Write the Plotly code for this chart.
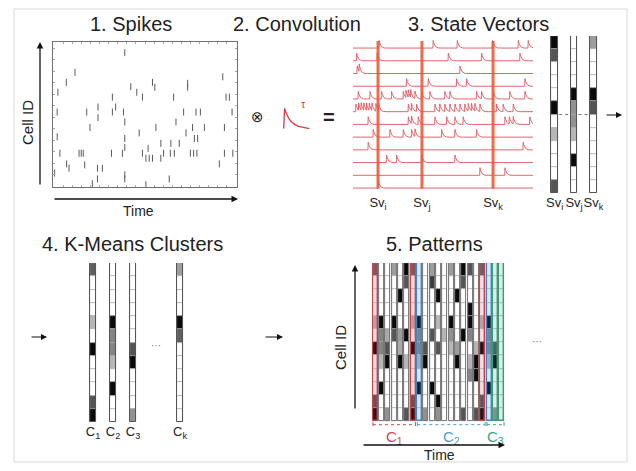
import numpy as np
import plotly.graph_objects as go

# Window is 636x471; the page body keeps an 8px margin, so the figure is
# placed at (8, 8) and all layout positions below are in window pixels.
WIN_W, WIN_H = 636, 471
OFF = 8
W, H = WIN_W - 2 * OFF, WIN_H - 2 * OFF
FONT = "Liberation Sans, Arial, sans-serif"

# ---------------- DATA ----------------
# 1. Spike raster: time (0-100) and cell position (0-100)
SPIKE_TIME = [38.9, 11.6, 6.8, 92.7, 73.4, 73.4, 54.1, 55.4, 42.2, 45.5,
              2.2, 32.1, 48.6, 65.7, 94.5, 96.3, 24.2, 33.9, 1.8, 18.0,
              32.1, 38.2, 24.2, 71.2, 78.0, 80.4, 97.8, 67.0, 38.9, 19.8,
              56.0, 46.8, 38.9, 72.5, 76.1, 82.6, 77.1, 78.9, 93.6, 1.8,
              58.7, 64.2, 68.8, 38.9, 51.7, 3.3, 13.8, 15.0, 16.1, 31.6,
              37.6, 48.6, 60.2, 63.9, 66.1, 74.9, 76.7, 78.5, 93.6, 98.2,
              50.5, 52.3, 54.1, 58.7, 7.0, 8.3, 16.9, 23.9, 26.6, 90.8,
              0.4, 38.9, 38.9, 23.9, 63.3, 21.1, 50.5]
SPIKE_CELL = [93.1, 79.3, 72.4, 76.3, 71.7, 69.0, 72.4, 69.0, 69.4, 65.5,
              65.5, 62.1, 62.1, 62.1, 62.1, 62.1, 55.2, 55.2, 51.7, 51.7,
              51.7, 51.7, 47.8, 51.7, 51.7, 51.7, 51.7, 44.8, 44.8, 40.9,
              40.9, 37.2, 33.3, 37.2, 40.9, 40.9, 33.3, 33.3, 40.9, 34.5,
              29.9, 29.9, 29.9, 27.1, 26.4, 23.0, 23.0, 23.0, 23.0, 23.0,
              23.0, 23.0, 23.0, 23.0, 23.0, 23.0, 23.0, 23.0, 23.0, 23.0,
              19.5, 19.5, 19.5, 19.5, 15.6, 12.6, 14.9, 12.6, 12.6, 15.6,
              9.2, 8.0, 5.1, 5.1, 5.1, 1.8, 1.1]

# 2. Convolution kernel (read from the icon)
KERNEL_T = [0, 0.15, 0.3, 0.5, 0.8, 1.2, 1.7, 2.3, 3.0, 4.0]
KERNEL_V = [0, 1.0, 0.85, 0.68, 0.5, 0.34, 0.21, 0.11, 0.05, 0.0]

# 3. Spike times per cell (top to bottom) for the convolved traces
TRACE_SPIKES = [
    [14.4, 44.4, 57.8, 77.4, 91.7, 97.2],
    [1.9, 13.3, 52.8, 71.3, 92.6],
    [2.2, 3.3, 59.3],
    [29.6, 41.7, 57.4, 63.0, 95.4],
    [2.8, 9.3, 15.7, 21.3, 27.8, 29.3, 30.6, 31.9, 34.3, 38.0, 42.6, 50.9,
     53.7, 68.5, 71.3, 77.8, 87.0, 95.4],
    [1.5, 3.0, 4.4, 5.9, 7.4, 8.9, 10.4, 12.6, 14.1, 30.6, 32.4, 35.2, 45.4,
     48.1, 50.9, 53.7, 56.5, 59.3, 62.0, 63.9, 65.7, 67.6, 70.4, 79.6, 83.3, 88.9],
    [8.3, 30.6, 32.4, 36.1, 45.4, 51.9, 56.5, 61.1, 84.3, 86.7, 88.9, 98.1],
    [11.1, 20.4, 27.8, 32.4, 34.3, 49.1, 56.5, 68.5],
    [8.3, 94.4],
    [18.5, 24.1, 38.0, 56.5],
    [70.4, 84.3],
    [13.9],
]
SV_TIMES = [13.9, 38.3, 77.8]
SV_LABELS = ["Sv<sub>i</sub>", "Sv<sub>j</sub>", "Sv<sub>k</sub>"]
SV_I = [1.0, 0.7, 0, 0, 0, 1.0, 0, 0.3, 0, 0, 0, 0.7]
SV_J = [0, 0, 0, 0, 1.0, 0.45, 0.45, 0.3, 0, 1.0, 0, 0]
SV_K = [0.4, 0, 0, 0, 1.0, 0.7, 0, 0, 0, 0, 0, 0]

# 4. K-means cluster centroids
CLUSTER_LABELS = ["C<sub>1</sub>", "C<sub>2</sub>", "C<sub>3</sub>", "C<sub>k</sub>"]
C_1 = [0.65, 0, 0, 0, 0.3, 0, 1.0, 0, 0, 0, 0.7, 1.0]
C_2 = [0, 0, 0, 0, 1.0, 0.5, 0.5, 0.3, 0, 1.0, 0, 0]
C_3 = [0, 0, 0, 0, 0, 0, 0.7, 1.0, 0, 0, 0, 0.45]
C_K = [0.4, 0, 0, 0, 1.0, 0.65, 0, 0, 0, 0, 0, 0]

# 5. Patterns: state vector per time strip (darkness per cell, top to bottom)
PATTERN = [
    [0.65, 0, 0, 0, 0.3, 0, 1, 0, 0, 0, 0.7, 1],
    [0, 0, 0, 0, 1, 0.5, 0.5, 0.3, 0, 1, 0, 0],
    [0, 0, 0, 0, 0, 0.35, 0.7, 1, 0, 0, 0, 0.45],
    [0.4, 0, 0, 0, 1, 0.7, 0, 0, 0, 0, 0, 0],
    [0, 0, 1, 0, 0, 0.4, 0.35, 1, 0, 0, 0, 0],
    [1, 0.7, 0, 0, 0, 1, 0, 0.3, 0, 0, 0, 0.7],
    [0.65, 0, 0, 0, 0.3, 0, 1, 0, 0, 0, 0.7, 1],
    [0, 0, 0, 0, 1, 0.5, 0.5, 0.3, 0, 1, 0, 0],
    [0, 0, 0, 0, 0, 0, 0.7, 1, 0, 0, 0, 0.45],
    [0.4, 0.8, 0, 0, 0, 0.7, 0, 0, 0, 1, 0, 0],
    [0, 0, 1, 0, 0.3, 0, 0.7, 0, 0, 0, 1, 0.45],
    [0, 0, 0, 0, 0, 0.3, 0, 0, 0, 0, 0, 0],
    [0.4, 0, 0, 0, 1, 0.45, 0.3, 0, 0, 0, 0, 0],
    [0, 0, 1, 0, 0, 0, 0.4, 1, 0, 0, 0, 0],
    [1, 0.7, 0, 0, 0, 1, 0, 0, 0, 0, 0, 0.7],
    [0.7, 0, 0, 1, 1, 0.5, 0, 0.3, 0.5, 0, 0, 0],
    [0, 0, 0, 0, 0, 0, 0.3, 1, 1, 0, 0, 0.7],
    [0.65, 0, 0, 0, 0.3, 0, 1, 0, 0, 0, 0.7, 1],
    [0, 0, 0, 0, 1, 0.5, 0.5, 0.3, 0, 1, 0, 0],
    [0, 0, 0, 0, 0, 0, 0.7, 1, 0, 0, 0, 0.45],
    [0, 0, 0, 0, 0, 0, 0, 0, 0, 0, 0, 0],
]
STRIP_CLUSTER = [1, 0, 0, 0, 0, 0, 1, 2, 0, 0, 0, 0, 0, 0, 0, 0, 0, 1, 2, 3, 3]
RUN_LABELS = ["C<sub>1</sub>", "C<sub>2</sub>", "C<sub>3</sub>"]
RUN_START = [0, 7, 18]
RUN_END = [6, 17, 20]

# ---------------- STYLE / LAYOUT HELPERS ----------------
CL_COL = {0: "#6e6e6e", 1: "#c4454f", 2: "#3f86c6", 3: "#3a9c78"}
LABEL_COL = ["#cc4a57", "#4aa0d6", "#3aa584"]
TRACE_RED = "#e2646c"
BAR_RED = "#ef5a3a"


def px(x):
    return (x - OFF) / W


def py(y):
    return 1 - (y - OFF) / H


def dx(a, b):
    return [px(a), px(b)]


def dy(top, bottom):
    return [py(bottom), py(top)]


def cell_color(d, tint=None, amount=0.18):
    v = 255 - 245 * d
    rgb = [v, v, v]
    if tint:
        tr = [int(tint[i:i + 2], 16) for i in (1, 3, 5)]
        rgb = [(1 - amount) * a + amount * b for a, b in zip(rgb, tr)]
    return "rgb({},{},{})".format(*[int(round(c)) for c in rgb])


fig = go.Figure()


def add_cells(columns, xpos, width, xa, ya, outline_cols, outline_w, tints=None):
    n = len(columns[0])
    tints = tints or [None] * len(columns)
    for r in range(n):
        fig.add_trace(go.Bar(
            x=xpos, y=[1] * len(xpos), base=[n - 1 - r] * len(xpos), width=width,
            marker=dict(color=[cell_color(c[r], tc) for c, tc in zip(columns, tints)],
                        line=dict(color="#a8a8a8", width=0.6)),
            xaxis=xa, yaxis=ya, showlegend=False, hoverinfo="skip"))
    fig.add_trace(go.Bar(
        x=xpos, y=[n] * len(xpos), base=[0] * len(xpos), width=width,
        marker=dict(color="rgba(0,0,0,0)",
                    line=dict(color=outline_cols, width=outline_w)),
        xaxis=xa, yaxis=ya, showlegend=False, hoverinfo="skip"))


# Panel 1: raster
fig.add_trace(go.Scatter(
    x=SPIKE_TIME, y=SPIKE_CELL, mode="markers",
    marker=dict(symbol="line-ns", size=5, line=dict(width=1, color="#5a5a5a")),
    xaxis="x", yaxis="y", showlegend=False, hoverinfo="skip"))

# Panel 2: kernel icon
fig.add_trace(go.Scatter(
    x=KERNEL_T, y=KERNEL_V, mode="lines", line=dict(color="#d2404c", width=1.3),
    xaxis="x2", yaxis="y2", showlegend=False, hoverinfo="skip"))

# Panel 3: convolved traces
t = np.linspace(0, 100, 2001)
kt = np.array(KERNEL_T) * 0.8
kv = np.array(KERNEL_V)
n_tr = len(TRACE_SPIKES)
for i, spikes in enumerate(TRACE_SPIKES):
    s = np.zeros_like(t)
    for sp in spikes:
        s += np.interp(t - sp, kt, kv, left=0, right=0)
    y = (n_tr - 1 - i) + 0.62 * np.minimum(s, 1.5)
    fig.add_trace(go.Scatter(
        x=t, y=y, mode="lines", line=dict(color=TRACE_RED, width=1),
        xaxis="x3", yaxis="y3", showlegend=False, hoverinfo="skip"))
for st in SV_TIMES:
    fig.add_trace(go.Scatter(
        x=[st, st], y=[-0.05, n_tr - 0.45], mode="lines",
        line=dict(color=BAR_RED, width=3), opacity=0.9,
        xaxis="x3", yaxis="y3", showlegend=False, hoverinfo="skip"))

# Panel 3b: state vectors
SV_BW = 0.33
sv_x = list(range(len(SV_LABELS)))
add_cells([SV_I, SV_J, SV_K], sv_x, SV_BW, "x4", "y4", "#555555", 1)
dot_x, dot_y = [], []
for k in range(len(sv_x) - 1):
    dot_x += [sv_x[k] + SV_BW / 2 + 0.07, sv_x[k + 1] - SV_BW / 2 - 0.07, None]
    dot_y += [6, 6, None]
fig.add_trace(go.Scatter(x=dot_x, y=dot_y, mode="lines",
                         line=dict(color="#777777", width=1.2, dash="dot"),
                         xaxis="x4", yaxis="y4", showlegend=False, hoverinfo="skip"))

# Panel 4: clusters
ELLIPSIS_GAP = 2.35
cl_x = [0, 1, 2, 2 + ELLIPSIS_GAP]
add_cells([C_1, C_2, C_3, C_K], cl_x, 0.32, "x5", "y5", "#555555", 1)

# Panel 5: patterns
strip_x = list(range(len(PATTERN)))
add_cells(PATTERN, strip_x, 0.78, "x6", "y6",
          [CL_COL[c] for c in STRIP_CLUSTER],
          [1.4 if c else 0.9 for c in STRIP_CLUSTER],
          tints=[CL_COL[c] if c else None for c in STRIP_CLUSTER])
for lab, a, b, col in zip(RUN_LABELS, RUN_START, RUN_END, LABEL_COL):
    fig.add_trace(go.Scatter(
        x=[a - 0.35, b + 0.35], y=[-0.25, -0.25], mode="lines+markers",
        line=dict(color=col, width=1, dash="dot"),
        marker=dict(symbol="line-ns", size=4, line=dict(color=col, width=1)),
        xaxis="x6", yaxis="y6", showlegend=False, hoverinfo="skip"))

# ---------------- AXES ----------------
hidden = dict(visible=False, fixedrange=True)
frame = dict(showline=True, mirror="ticks", ticks="inside", ticklen=2,
             tickcolor="#aaaaaa", linecolor="#707070", linewidth=1,
             showticklabels=False, showgrid=False, zeroline=False)
lab_axis = dict(showline=False, showgrid=False, zeroline=False, ticks="",
                tickangle=0, tickfont=dict(size=13, color="#222222", family=FONT))

layout_axes = dict(
    xaxis=dict(domain=dx(53, 237), range=[-0.5, 100.5], dtick=5, anchor="y", **frame),
    yaxis=dict(domain=dy(42, 187), range=[-0.5, 100.5], dtick=8, anchor="x", **frame),
    xaxis2=dict(domain=dx(283, 310), range=[-0.1, 4.1], anchor="y2", **hidden),
    yaxis2=dict(domain=dy(108, 129), range=[-0.02, 1.02], anchor="x2", **hidden),
    xaxis3=dict(domain=dx(353, 533), range=[0, 100], anchor="y3",
                tickvals=SV_TIMES, ticktext=SV_LABELS, **lab_axis),
    yaxis3=dict(domain=dy(38, 193), range=[-0.39, 11.79], anchor="x3", **hidden),
    xaxis4=dict(domain=dx(540, 608), range=[-0.75, 2.75], anchor="y4",
                tickvals=sv_x, ticktext=SV_LABELS, **lab_axis),
    yaxis4=dict(domain=dy(36, 193), range=[0, 12], anchor="x4", **hidden),
    xaxis5=dict(domain=dx(83, 190), range=[-0.5, 4.85], anchor="y5",
                tickvals=cl_x, ticktext=CLUSTER_LABELS, **lab_axis),
    yaxis5=dict(domain=dy(263, 422), range=[0, 12], anchor="x5", **hidden),
    xaxis6=dict(domain=dx(372, 505), range=[-0.5, 20.5], anchor="y6", **hidden),
    yaxis6=dict(domain=dy(263, 426), range=[-0.35, 12], anchor="x6", **hidden),
)

# ---------------- ANNOTATIONS ----------------
ann = []


def text(s, x, y, size, color="#222222", angle=0, family=FONT):
    ann.append(dict(text=s, x=px(x), y=py(y), xref="paper", yref="paper",
                    showarrow=False, xanchor="center", yanchor="middle",
                    textangle=angle, font=dict(size=size, color=color, family=family)))


def arrow(hx, hy, tx, ty, width=1.3):
    ann.append(dict(text="", x=px(hx), y=py(hy), xref="paper", yref="paper",
                    ax=tx - hx, ay=ty - hy, showarrow=True, arrowhead=2,
                    arrowsize=1, arrowwidth=width, arrowcolor="#111111",
                    font=dict(size=10)))


text("1. Spikes", 131, 24, 20)
text("2. Convolution", 297, 24, 20)
text("3. State Vectors", 478, 24, 20)
text("4. K-Means Clusters", 132, 244, 20)
text("5. Patterns", 434, 244, 20)
text("Cell ID", 27, 123, 15, angle=-90)
text("Time", 138, 211, 14)
text("Cell ID", 340, 348, 15, angle=-90)
text("Time", 439, 455, 14)
text("⊗", 258, 117, 15, family="DejaVu Sans")
text("τ", 303, 104, 11, color="#d2404c")
text("<b>=</b>", 329, 117, 20)
text("···", 156, 345, 10, color="#777777")
text("···", 537, 341, 10, color="#777777")
for lab, a, b, col in zip(RUN_LABELS, RUN_START, RUN_END, LABEL_COL):
    ann.append(dict(text=lab, x=(a + b) / 2, y=py(437), xref="x6", yref="paper",
                    showarrow=False, xanchor="center", yanchor="middle",
                    font=dict(size=15, color=col, family=FONT)))

arrow(40, 42, 40, 186)
arrow(238, 199, 53, 199)
arrow(622, 115, 605, 115, 1.2)
arrow(47, 337, 30, 337, 1.2)
arrow(283, 337, 264, 337, 1.2)
arrow(355, 265, 355, 410)
arrow(505, 445, 362, 445)

fig.update_layout(
    width=W, height=H, margin=dict(l=0, r=0, t=0, b=0),
    paper_bgcolor="white", plot_bgcolor="white",
    barmode="overlay", bargap=0, showlegend=False,
    font=dict(family=FONT),
    annotations=ann,
    shapes=[dict(type="rect", xref="paper", yref="paper",
                 x0=px(14), x1=px(627), y0=py(462), y1=py(9),
                 line=dict(color="#d8d8d8", width=1))],
    **layout_axes,
)

fig.write_html("out.html")
